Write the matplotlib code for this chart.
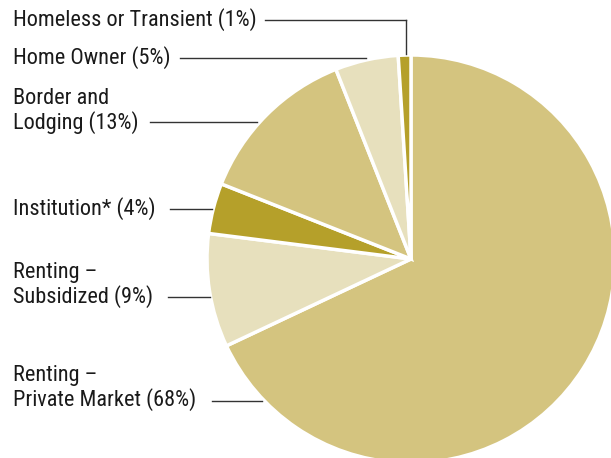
import matplotlib
matplotlib.use("Agg")
import matplotlib.pyplot as plt

categories = ["Renting \u2013\nPrivate Market (68%)", "Renting \u2013\nSubsidized (9%)",
              "Institution* (4%)", "Border and\nLodging (13%)", "Home Owner (5%)",
              "Homeless or Transient (1%)"]
values = [68, 9, 4, 13, 5, 1]
colors = ["#d4c47f", "#e7e0bd", "#b5a02a", "#d4c47f", "#e7e0bd", "#b5a02a"]

W, H = 611, 458
fig = plt.figure(figsize=(W / 100, H / 100), dpi=100)
ax = fig.add_axes([0, 0, 1, 1])

cx, cy, r = 411, 259, 204
wedges, _ = ax.pie(values, colors=colors, startangle=-90, counterclock=True,
                   center=(cx, cy), radius=r, frame=True,
                   wedgeprops=dict(edgecolor="white", linewidth=2.5))
ax.set_xlim(0, W)
ax.set_ylim(H, 0)
ax.set_aspect("equal")
ax.axis("off")

font = ["Roboto Condensed", "DejaVu Sans"]
fs = 16
tc = "#1a1a1a"
# label: (text y center, line y, line x start, line x end)
layout = [
    (388, 401, 212, 262),
    (285, 297, 168, 210),
    (209, 209, 170, 212),
    (111, 122, 150, 257),
    (58, 58, 180, 366),
    (20, 20, 265, 406),
]
for lab, (ty, ly, x0, x1) in zip(categories, layout):
    ax.text(13, ty, lab, ha="left", va="center", fontsize=fs, family=font,
            color=tc, linespacing=1.1)
    ax.plot([x0, x1], [ly, ly], color="#333333", lw=1)
ax.plot([406, 406], [20, 54], color="#333333", lw=1)

fig.savefig("out.png", dpi=100)
